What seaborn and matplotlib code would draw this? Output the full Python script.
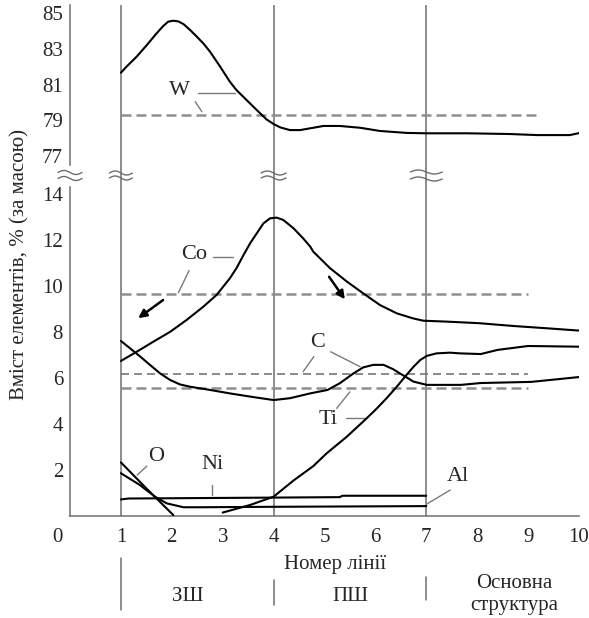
import numpy as np
import matplotlib
matplotlib.use("Agg")
import matplotlib.pyplot as plt
import seaborn as sns
from matplotlib.lines import Line2D
from matplotlib.transforms import ScaledTranslation, IdentityTransform

# ---------------- data ----------------
w_x = [1.0, 1.11, 1.31, 1.51, 1.70, 1.83, 1.93, 2.03, 2.13, 2.23, 2.36, 2.49, 2.62,
       2.75, 2.95, 3.14, 3.27, 3.47, 3.67, 3.86, 4.0, 4.13, 4.32, 4.52, 4.72, 4.98,
       5.3, 5.7, 6.09, 6.62, 7.01, 7.8, 8.64, 9.17, 9.82, 10.0]
w_y = [81.66, 82.0, 82.56, 83.21, 83.86, 84.27, 84.52, 84.57, 84.53, 84.38, 84.05,
       83.68, 83.30, 82.84, 82.0, 81.16, 80.69, 80.13, 79.57, 79.05, 78.79, 78.6,
       78.45, 78.45, 78.55, 78.68, 78.68, 78.58, 78.4, 78.29, 78.27, 78.27, 78.23,
       78.17, 78.17, 78.28]

co_x = [1.0, 1.31, 1.64, 1.97, 2.29, 2.62, 2.88, 3.14, 3.27, 3.41, 3.54, 3.67, 3.80,
        3.93, 4.06, 4.19, 4.39, 4.58, 4.72, 4.78, 5.11, 5.44, 5.76, 6.09, 6.42, 6.74,
        6.94, 7.4, 8.05, 8.71, 9.37, 10.0]
co_y = [6.74, 7.14, 7.58, 8.01, 8.52, 9.10, 9.61, 10.33, 10.77, 11.35, 11.86, 12.29,
        12.72, 12.94, 12.97, 12.87, 12.51, 12.07, 11.71, 11.49, 10.77, 10.19, 9.68,
        9.17, 8.81, 8.59, 8.49, 8.45, 8.38, 8.26, 8.16, 8.06]

c_x = [1.0, 1.18, 1.38, 1.57, 1.77, 1.97, 2.16, 2.36, 2.75, 3.14, 3.54, 4.0, 4.32,
       4.72, 5.06, 5.30, 5.57, 5.76, 5.96, 6.16, 6.35, 6.48, 6.61, 6.75, 7.01, 7.68,
       8.07, 9.06, 10.0]
c_y = [7.61, 7.29, 6.93, 6.57, 6.20, 5.91, 5.72, 5.62, 5.48, 5.33, 5.19, 5.04, 5.12,
       5.33, 5.48, 5.77, 6.20, 6.46, 6.57, 6.57, 6.38, 6.20, 6.03, 5.84, 5.70, 5.70,
       5.78, 5.83, 6.04]

ti_x = [3.0, 3.54, 4.0, 4.39, 4.78, 5.04, 5.44, 5.83, 6.03, 6.22, 6.42, 6.61, 6.75,
        6.88, 7.01, 7.20, 7.47, 7.66, 8.07, 8.4, 9.0, 10.0]
ti_y = [0.15, 0.48, 0.84, 1.54, 2.17, 2.72, 3.45, 4.25, 4.68, 5.12, 5.62, 6.13, 6.49,
        6.78, 6.96, 7.07, 7.10, 7.07, 7.04, 7.22, 7.39, 7.36]

o_x = [1.0, 1.5, 2.03]
o_y = [2.33, 1.2, 0.04]

al_x = [1.0, 1.37, 1.67, 1.9, 2.23, 2.55, 4.0, 7.0]
al_y = [1.86, 1.35, 0.84, 0.55, 0.38, 0.38, 0.4, 0.43]

ni_x = [1.0, 1.15, 4.0, 5.3, 5.35, 7.0]
ni_y = [0.72, 0.76, 0.8, 0.82, 0.88, 0.88]

# mean levels (dashed lines)
avg_w = 79.29
avg_co = 9.65
avg_c = 6.17
avg_ti = 5.57

zone_bounds = [1, 4, 7]
zone_names = ["ЗШ", "ПШ", "Основна\nструктура"]
upper_ticks = [77, 79, 81, 83, 85]
lower_ticks = [2, 4, 6, 8, 10, 12, 14]
x_ticks = list(range(0, 11))

# ---------------- style ----------------
sns.set_style("white")
plt.rcParams['font.family'] = ['Liberation Serif', 'DejaVu Serif']
FS = 15
LFS = 16
plt.rcParams['font.size'] = FS

W, H = 589, 618
fig = plt.figure(figsize=(W / 100, H / 100), dpi=100)
L = 70 / W
WD = 509 / W
ax_top = fig.add_axes([L, 1 - 176 / H, WD, 171 / H])
ax_bot = fig.add_axes([L, 1 - 516 / H, WD, 340 / H])

GREY = '#6e6e6e'
DGREY = '#8e8e8e'

for ax in (ax_top, ax_bot):
    ax.set_xlim(0, 10)
    ax.set_facecolor('none')
    for s in ('top', 'right'):
        ax.spines[s].set_visible(False)
    ax.spines['left'].set_color(GREY)
    ax.spines['left'].set_linewidth(1.1)
    ax.tick_params(axis='y', direction='in', length=4, color=GREY, width=1,
                   labelsize=FS, pad=5)
    for xb in zone_bounds:
        ax.axvline(xb, color=GREY, lw=1.1, zorder=1)

ax_top.set_ylim(75.88, 85.45)
ax_bot.set_ylim(0, 14.78)
ax_top.spines['bottom'].set_visible(False)
ax_top.spines['left'].set_bounds(76.5, 85.45)
ax_bot.spines['left'].set_bounds(0, 14.3)
ax_bot.spines['bottom'].set_color(GREY)
ax_bot.spines['bottom'].set_linewidth(1.1)
ax_top.set_xticks([])
ax_top.set_yticks(upper_ticks)
ax_bot.set_yticks(lower_ticks)
ax_bot.set_xticks(x_ticks)
ax_bot.tick_params(axis='x', direction='in', length=4, color=GREY, width=1,
                   labelsize=FS, pad=9)
lbl0 = ax_bot.get_xticklabels()[0]
lbl0.set_transform(lbl0.get_transform() + ScaledTranslation(-0.13, 0, fig.dpi_scale_trans))

# ---------------- curves ----------------
kw = dict(color='black', linewidth=1.5, estimator=None, sort=False, zorder=3)
sns.lineplot(x=w_x, y=w_y, ax=ax_top, **kw)
for xs, ys in ((co_x, co_y), (c_x, c_y), (ti_x, ti_y), (o_x, o_y), (al_x, al_y), (ni_x, ni_y)):
    sns.lineplot(x=xs, y=ys, ax=ax_bot, **kw)

# ---------------- mean (dashed) lines ----------------
ax_top.hlines(avg_w, 1, 9.23, color=DGREY, lw=1.8, linestyles=(0, (4, 2)), zorder=2)
ax_bot.hlines(avg_co, 1, 9.0, color=DGREY, lw=1.8, linestyles=(0, (4, 2)), zorder=2)
ax_bot.hlines(avg_c, 1, 9.0, color='#777777', lw=1.2, linestyles=(0, (4.8, 3)), zorder=2)
ax_bot.hlines(avg_ti, 1, 9.0, color=DGREY, lw=1.8, linestyles=(0, (4, 2)), zorder=2)

# ---------------- labels with leader lines ----------------
LC = '#7a7a7a'
def leader(ax, x0, y0, x1, y1):
    ax.plot([x0, x1], [y0, y1], color=LC, lw=1.0, zorder=2)

ax_top.text(2.16, 80.69, "W", ha='center', va='center', fontsize=LFS)
leader(ax_top, 2.52, 80.51, 3.24, 80.51)
leader(ax_top, 2.46, 80.04, 2.59, 79.48)

ax_bot.text(2.44, 11.35, "Co", ha='center', va='center', fontsize=LFS)
leader(ax_bot, 2.80, 11.25, 3.21, 11.25)
leader(ax_bot, 2.34, 10.67, 2.13, 9.71)

ax_bot.text(4.86, 7.53, "C", ha='center', va='center', fontsize=LFS)
leader(ax_bot, 5.12, 7.14, 5.70, 6.49)
leader(ax_bot, 4.79, 6.93, 4.58, 6.27)

ax_bot.text(5.08, 4.2, "Ti", ha='center', va='center', fontsize=LFS)
leader(ax_bot, 5.42, 4.25, 5.82, 4.25)
leader(ax_bot, 5.50, 5.40, 5.24, 4.68)

ax_bot.text(1.70, 2.58, "O", ha='center', va='center', fontsize=LFS)
leader(ax_bot, 1.51, 2.17, 1.32, 1.78)

ax_bot.text(2.80, 2.22, "Ni", ha='center', va='center', fontsize=LFS)
leader(ax_bot, 2.78, 1.35, 2.78, 0.91)

ax_bot.text(7.63, 1.71, "Al", ha='center', va='center', fontsize=LFS)
leader(ax_bot, 7.47, 1.13, 7.01, 0.52)

# arrows
ap = dict(arrowstyle='-|>', color='black', lw=1.8, mutation_scale=12, shrinkA=0, shrinkB=0)
ax_bot.annotate('', xy=(1.34, 8.60), xytext=(1.83, 9.39), arrowprops=ap)
ax_bot.annotate('', xy=(5.40, 9.42), xytext=(5.09, 10.40), arrowprops=ap)

# ---------------- axis titles & zone labels ----------------
ax_bot.text(5.2, -2.13, "Номер лінії", ha='center', va='center', fontsize=FS, clip_on=False)
fig.text(20 / W, 1 - 264 / H, "Вміст елементів, % (за масою)", rotation=90,
         ha='center', va='center', fontsize=FS)

sep_lo = [-1.83, -2.78, -2.65]
sep_hi = [-4.09, -3.87, -3.65]
for xb, lo, hi in zip(zone_bounds, sep_lo, sep_hi):
    ax_bot.plot([xb, xb], [lo, hi], color=GREY, lw=1.1, clip_on=False)
zone_x = [2.32, 5.5, 8.72]
zone_y = [-3.52, -3.52, -3.41]
for zx, zy, zn in zip(zone_x, zone_y, zone_names):
    ax_bot.text(zx, zy, zn, ha='center', va='center', fontsize=FS,
                linespacing=1.22, clip_on=False)

# ---------------- axis break marks ----------------
fig.canvas.draw()
t = np.linspace(-1, 1, 40)
for xb, hw, gap in ((0, 12, 6), (1, 11.5, 5), (4, 12.5, 5), (7, 16, 7)):
    cx, cy = ax_bot.transData.transform((xb, ax_bot.get_ylim()[1]))
    cy += 0.5
    for dy0 in (gap / 2, -gap / 2):
        xs = cx + hw * t
        ys = cy + dy0 - 2.0 * np.sin(np.pi * t)
        fig.add_artist(Line2D(xs, ys, transform=IdentityTransform(), color=GREY, lw=1.0))

fig.savefig("out.png", dpi=100)
